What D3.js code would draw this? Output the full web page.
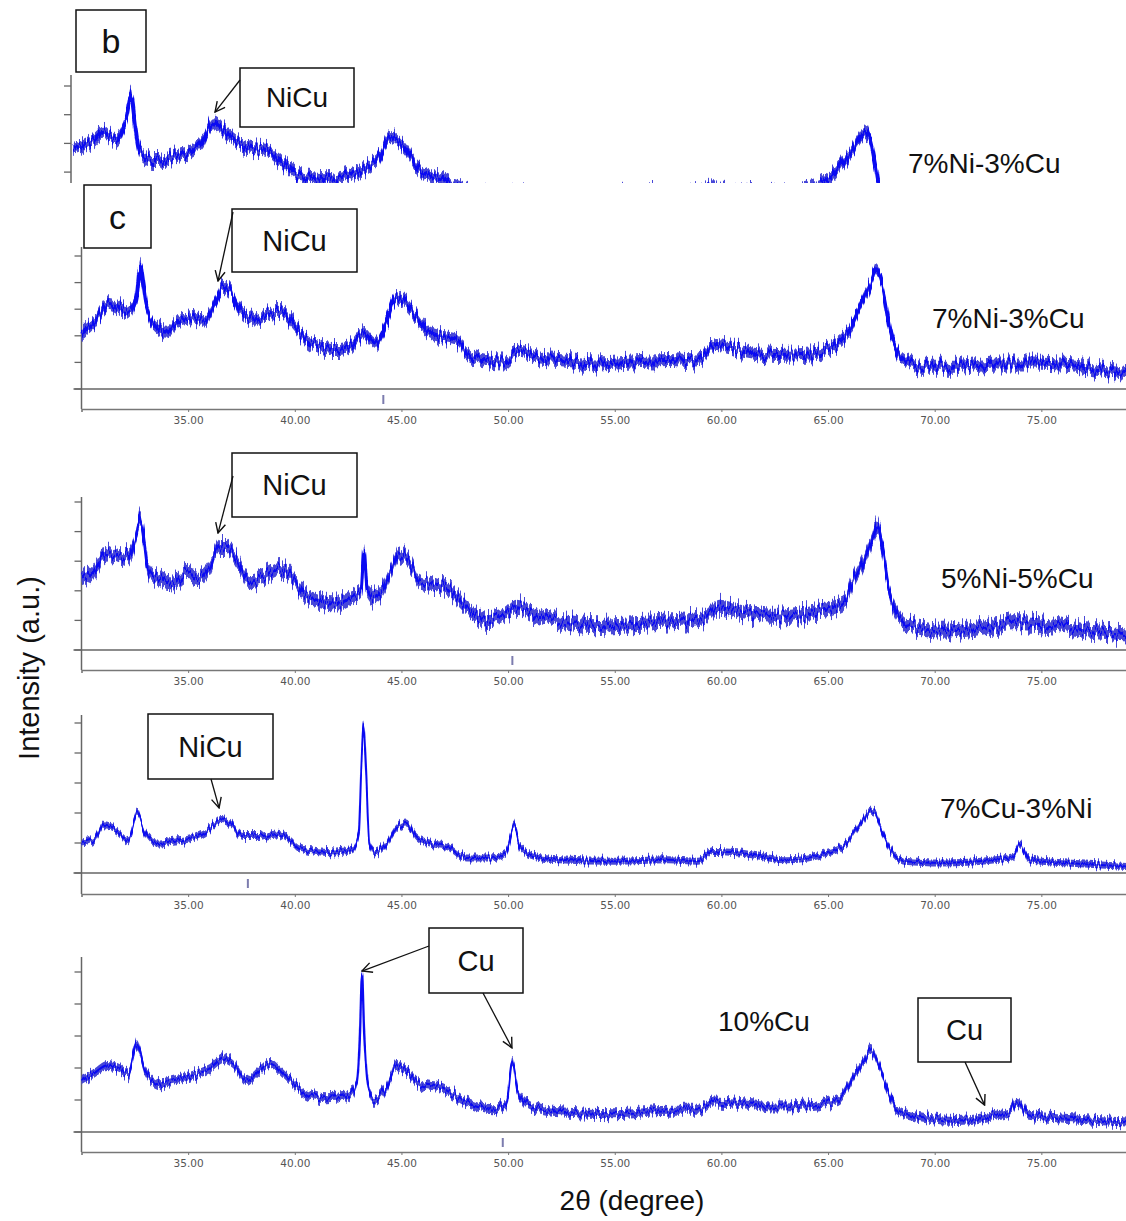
<!DOCTYPE html>
<html>
<head>
<meta charset="utf-8">
<script src="https://cdn.jsdelivr.net/npm/d3@7/dist/d3.min.js"></script>
<style>
  body { margin: 0; background: #fff; }
  svg { display: block; }
</style>
</head>
<body>
<div id="chart"></div>
<script>
'use strict';

// ---- data (2theta in degrees, intensity in axis-tick units) ----
const ttB = [30.1, 31.04, 31.5, 32.1, 32.6, 32.8, 33.0, 33.22, 33.85, 34.78, 35.72, 36.18, 36.65, 37.28, 38.2, 39.15, 39.77, 40.7, 41.95, 43.2, 44.28, 44.9, 45.53, 46.3, 47.4, 48.18, 49.5, 51.0, 53.0, 55.0, 57.0, 59.0, 60.0, 62.0, 64.0, 65.56, 66.4, 67.18, 67.6, 67.76, 68.3, 70.0, 73.0, 76.0, 79.0];
const intB = [2.77, 3.12, 3.41, 3.12, 3.9, 4.6, 3.6, 2.66, 2.42, 2.53, 2.77, 3.12, 3.7, 3.35, 2.88, 2.77, 2.42, 1.83, 1.72, 1.97, 2.42, 3.22, 2.88, 2.07, 1.72, 1.48, 1.2, 1.3, 1.1, 1.15, 1.3, 1.25, 1.4, 1.3, 1.35, 1.83, 2.66, 3.4, 2.18, 1.48, 1.0, 0.9, 0.95, 0.9, 0.8];

const ttC1 = [30.0, 30.55, 31.3, 31.95, 32.3, 32.6, 32.75, 32.9, 33.05, 33.5, 34.0, 34.6, 35.2, 35.7, 36.2, 36.6, 36.95, 37.4, 38.05, 38.7, 39.3, 39.9, 40.55, 41.2, 41.95, 42.6, 43.2, 43.8, 44.3, 44.75, 45.2, 45.7, 46.2, 46.95, 47.6, 48.1, 49.0, 49.8, 50.5, 51.5, 52.4, 54.1, 55.8, 57.5, 58.9, 59.75, 60.9, 62.6, 64.3, 65.4, 66.0, 66.7, 67.0, 67.25, 67.6, 67.9, 68.4, 69.4, 71.1, 72.9, 74.6, 76.3, 78.0, 79.0];
const intC1 = [2.09, 2.46, 3.2, 2.96, 2.9, 3.6, 4.6, 3.9, 3.1, 2.34, 2.15, 2.6, 2.7, 2.6, 3.1, 3.84, 3.7, 2.96, 2.6, 2.84, 2.9, 2.46, 1.84, 1.6, 1.5, 1.6, 2.1, 1.7, 2.46, 3.46, 3.2, 2.7, 2.2, 1.96, 1.84, 1.34, 1.09, 1.03, 1.4, 1.15, 1.09, 0.96, 1.03, 1.09, 1.03, 1.65, 1.46, 1.28, 1.34, 1.7, 2.2, 3.46, 3.9, 4.5, 3.7, 2.34, 1.21, 0.84, 0.84, 0.96, 0.96, 0.9, 0.71, 0.59];

const ttC2 = [30.0, 30.55, 31.2, 31.8, 32.27, 32.55, 32.75, 32.95, 33.1, 33.67, 34.3, 34.9, 35.55, 36.0, 36.5, 36.8, 37.27, 37.9, 38.5, 39.3, 39.9, 40.4, 41.0, 41.95, 42.7, 43.1, 43.25, 43.4, 43.67, 44.1, 44.6, 44.9, 45.4, 45.86, 46.5, 47.3, 47.7, 48.36, 49.1, 49.77, 50.4, 51.2, 52.1, 54.1, 55.8, 57.5, 59.2, 59.9, 60.9, 62.6, 64.3, 65.7, 66.2, 66.6, 67.06, 67.32, 67.57, 67.83, 68.25, 68.94, 70.3, 72.0, 73.7, 75.4, 77.1, 79.0];
const intC2 = [2.36, 2.58, 3.26, 3.03, 3.26, 3.8, 4.4, 3.6, 2.8, 2.36, 2.25, 2.58, 2.47, 2.8, 3.48, 3.48, 3.03, 2.36, 2.47, 2.7, 2.47, 1.9, 1.69, 1.57, 1.8, 2.0, 3.4, 2.0, 1.8, 2.02, 2.8, 3.26, 2.92, 2.36, 2.25, 2.02, 1.69, 1.24, 1.01, 1.12, 1.46, 1.24, 1.01, 0.84, 0.9, 0.96, 1.07, 1.46, 1.29, 1.12, 1.29, 1.57, 2.36, 2.92, 3.7, 4.16, 3.37, 2.13, 1.24, 0.79, 0.62, 0.73, 0.9, 0.84, 0.67, 0.56];

const ttC3 = [30.0, 30.55, 31.1, 31.64, 32.2, 32.6, 32.97, 33.5, 34.3, 35.23, 35.86, 36.56, 36.95, 37.58, 38.36, 39.14, 39.77, 40.23, 41.0, 41.95, 42.73, 43.0, 43.12, 43.22, 43.33, 43.5, 43.75, 44.2, 44.77, 45.23, 45.7, 46.33, 47.1, 48.05, 49.14, 49.9, 50.27, 50.55, 51.2, 52.4, 55.0, 57.5, 58.9, 59.6, 60.9, 63.0, 65.0, 65.9, 66.55, 66.98, 67.23, 67.57, 67.9, 68.6, 70.3, 72.85, 73.7, 74.0, 74.4, 76.25, 79.0];
const intC3 = [1.0, 1.11, 1.61, 1.44, 1.11, 2.0, 1.33, 1.0, 1.06, 1.17, 1.39, 1.78, 1.67, 1.22, 1.22, 1.33, 1.11, 0.83, 0.72, 0.67, 0.78, 1.33, 3.56, 5.0, 3.56, 1.0, 0.67, 0.89, 1.5, 1.67, 1.22, 1.0, 0.89, 0.5, 0.5, 0.67, 1.6, 0.83, 0.56, 0.44, 0.39, 0.44, 0.39, 0.72, 0.67, 0.44, 0.67, 1.0, 1.67, 2.06, 2.0, 1.33, 0.78, 0.39, 0.33, 0.44, 0.56, 1.0, 0.44, 0.33, 0.22];

const ttC4 = [30.0, 30.55, 31.2, 31.8, 32.2, 32.6, 32.97, 33.67, 34.45, 35.23, 36.0, 36.64, 37.1, 37.73, 38.36, 38.83, 39.45, 39.92, 40.7, 41.48, 42.42, 42.9, 43.05, 43.15, 43.25, 43.44, 43.67, 44.3, 44.77, 45.23, 45.86, 46.95, 48.05, 49.3, 49.92, 50.2, 50.47, 51.17, 52.4, 55.0, 57.5, 58.9, 59.6, 60.9, 62.6, 64.3, 65.5, 66.2, 66.7, 67.0, 67.3, 67.74, 68.25, 69.4, 71.1, 72.85, 73.5, 73.87, 74.4, 76.25, 79.0];
const intC4 = [1.61, 1.82, 2.08, 1.98, 1.82, 2.76, 1.93, 1.51, 1.61, 1.77, 1.98, 2.29, 2.14, 1.61, 1.93, 2.14, 1.82, 1.51, 1.15, 1.04, 1.09, 1.51, 2.97, 4.95, 3.2, 1.41, 0.99, 1.41, 2.08, 1.93, 1.51, 1.35, 0.94, 0.73, 0.94, 2.2, 1.2, 0.78, 0.63, 0.57, 0.68, 0.68, 0.94, 0.89, 0.78, 0.83, 0.99, 1.72, 2.24, 2.55, 2.24, 1.41, 0.68, 0.47, 0.36, 0.52, 0.63, 0.99, 0.52, 0.42, 0.31];

const sampleNames = ["7%Ni-3%Cu", "7%Ni-3%Cu", "5%Ni-5%Cu", "7%Cu-3%Ni", "10%Cu"];
const refLines = [null, 44.15, 50.2, 37.8, 49.75];   // small reference marks under each pattern
const tickLabels = [35, 40, 45, 50, 55, 60, 65, 70, 75];
const levelTicks = [0, 1, 2, 3, 4, 5];

const width = 1126, height = 1221;
const blue = "#0a0af2";
const font = "'Liberation Sans', Arial, sans-serif";

const svg = d3.select("#chart").append("svg")
    .attr("width", width)
    .attr("height", height);

const defs = svg.append("defs");
defs.append("marker")
    .attr("id", "arrow")
    .attr("markerUnits", "userSpaceOnUse")
    .attr("viewBox", "0 0 12 12")
    .attr("refX", 11).attr("refY", 6)
    .attr("markerWidth", 12).attr("markerHeight", 12)
    .attr("orient", "auto")
    .append("path")
    .attr("d", "M1,1 L11,6 L1,11")
    .attr("fill", "none")
    .attr("stroke", "#111")
    .attr("stroke-width", 1.4);

// detector-noise look: shift each pixel column up/down (style only, data untouched)
function jagFilter(id, seed, amp) {
    const f = defs.append("filter").attr("id", id)
        .attr("x", "-1%").attr("y", "-30%").attr("width", "102%").attr("height", "160%")
        .attr("color-interpolation-filters", "sRGB");
    f.append("feTurbulence").attr("type", "fractalNoise")
        .attr("baseFrequency", "0.5 0.015").attr("numOctaves", 2).attr("seed", seed).attr("result", "n");
    f.append("feColorMatrix").attr("in", "n").attr("type", "matrix")
        .attr("values", "0 0 0 0 0.5  0 1.6 0 0 -0.3  0 0 1 0 0  0 0 0 0 1").attr("result", "m");
    f.append("feDisplacementMap").attr("in", "SourceGraphic").attr("in2", "m")
        .attr("scale", amp).attr("xChannelSelector", "R").attr("yChannelSelector", "G");
}

// panel layout (pixel positions of each stacked pattern)
const panels = [
    { tt: ttB,  v: intB,  x0: 71,   px: 21.4,  base: 229.5, step: 28.7, top: 75,  axisY: null, band: 6, core: 4, jag: 14, clip: 183,
      label: [908, 173] },
    { tt: ttC1, v: intC1, x0: 81.5, px: 21.33, base: 389,   step: 26.6, top: 247, axisY: 409,  band: 6, core: 4, jag: 14,
      label: [932, 328] },
    { tt: ttC2, v: intC2, x0: 81.5, px: 21.33, base: 650,   step: 29.6, top: 497, axisY: 670,  band: 7, core: 3, jag: 16,
      label: [941, 588] },
    { tt: ttC3, v: intC3, x0: 81.5, px: 21.33, base: 873,   step: 30,   top: 715, axisY: 894,  band: 3.5, core: 2, jag: 8,
      label: [940, 818] },
    { tt: ttC4, v: intC4, x0: 81.5, px: 21.33, base: 1132,  step: 32,   top: 957, axisY: 1152, band: 4.5, core: 2.2, jag: 10,
      label: [718, 1031] }
];

panels.forEach(function(p, i) {
    const x = d3.scaleLinear().domain([30, 79]).range([p.x0, p.x0 + 49 * p.px]);
    const y = d3.scaleLinear().domain([0, 5]).range([p.base, p.base - 5 * p.step]);
    p.x = x; p.y = y;

    const g = svg.append("g");
    if (p.clip) {
        const cid = "clip" + i;
        defs.append("clipPath").attr("id", cid)
            .append("rect").attr("x", 0).attr("y", 0).attr("width", width).attr("height", p.clip);
        g.attr("clip-path", "url(#" + cid + ")");
    }

    const pts = p.tt.map((t, k) => ({ t: t, v: p.v[k] }));

    // left axis + level ticks
    g.append("line")
        .attr("x1", x(30)).attr("x2", x(30))
        .attr("y1", p.top).attr("y2", p.axisY || p.base)
        .attr("stroke", "#666").attr("stroke-width", 1.5);
    g.selectAll(".lvl").data(levelTicks).enter().append("line")
        .attr("x1", x(30) - 7).attr("x2", x(30))
        .attr("y1", d => y(d)).attr("y2", d => y(d))
        .attr("stroke", "#666").attr("stroke-width", 1.3);

    // zero line
    g.append("line")
        .attr("x1", x(30) - 8).attr("x2", width)
        .attr("y1", y(0)).attr("y2", y(0))
        .attr("stroke", "#666").attr("stroke-width", 1.5);

    // pattern: noise band + centre trace
    jagFilter("jag" + i, 3 + i * 7, p.jag);
    const trace = g.append("g").attr("filter", "url(#jag" + i + ")");
    trace.append("path").datum(pts)
        .attr("d", d3.area()
            .x(d => x(d.t))
            .y0(d => y(d.v) + p.band)
            .y1(d => y(d.v) - p.band)
            .curve(d3.curveMonotoneX))
        .attr("fill", "#4848d8");
    trace.append("path").datum(pts)
        .attr("d", d3.line()
            .x(d => x(d.t))
            .y(d => y(d.v))
            .curve(d3.curveMonotoneX))
        .attr("fill", "none").attr("stroke", blue).attr("stroke-width", p.core);

    if (p.axisY) {
        const ax = svg.append("g")
            .attr("transform", "translate(0," + p.axisY + ")")
            .call(d3.axisBottom(x).tickValues(tickLabels).tickFormat(d3.format(".2f")).tickSize(3).tickPadding(5));
        ax.select(".domain").attr("stroke", "#777").attr("stroke-width", 1.6);
        ax.selectAll(".tick line").attr("stroke", "#777");
        ax.selectAll("text").attr("fill", "#555").attr("font-size", 10.5)
            .attr("font-family", "'DejaVu Sans', Tahoma, sans-serif");
        if (refLines[i] !== null) {
            svg.append("line")
                .attr("x1", x(refLines[i])).attr("x2", x(refLines[i]))
                .attr("y1", p.base + 6).attr("y2", p.base + 15)
                .attr("stroke", "#7c7cae").attr("stroke-width", 2);
        }
    }

    svg.append("text")
        .attr("x", p.label[0]).attr("y", p.label[1])
        .attr("font-family", font).attr("font-size", 28).attr("fill", "#111")
        .text(sampleNames[i]);
});

// ---- annotations ----
function box(x, y, w, h, txt, size) {
    svg.append("rect").attr("x", x).attr("y", y).attr("width", w).attr("height", h)
        .attr("fill", "#fff").attr("stroke", "#111").attr("stroke-width", 1.5);
    svg.append("text").attr("x", x + w / 2).attr("y", y + h / 2)
        .attr("text-anchor", "middle").attr("dominant-baseline", "central")
        .attr("font-family", font).attr("font-size", size).attr("fill", "#111")
        .text(txt);
}
function arrow(x1, y1, p, t, v) {
    svg.append("line")
        .attr("x1", x1).attr("y1", y1)
        .attr("x2", p.x(t)).attr("y2", p.y(v))
        .attr("stroke", "#111").attr("stroke-width", 1.3)
        .attr("marker-end", "url(#arrow)");
}

// panel letters
box(76, 10, 70, 62, "b", 34);
box(84, 185, 67, 63, "c", 34);

// NiCu / Cu call-outs, arrow heads placed on the peaks through the panel scales
box(240, 68, 114, 59, "NiCu", 28);
arrow(240, 80, panels[0], 36.73, 4.09);

box(232, 209, 125, 63, "NiCu", 29);
arrow(233, 212, panels[1], 36.4, 4.06);

box(232, 453, 125, 64, "NiCu", 29);
arrow(233, 476, panels[2], 36.4, 3.95);

box(148, 714, 125, 65, "NiCu", 29);
arrow(211, 779, panels[3], 36.45, 2.17);

box(429, 928, 94, 65, "Cu", 29);
arrow(429, 946, panels[4], 43.15, 5.03);
arrow(483, 993, panels[4], 50.18, 2.63);

box(918, 998, 93, 64, "Cu", 29);
arrow(965, 1062, panels[4], 72.34, 0.84);

// axis titles
svg.append("text")
    .attr("x", 632).attr("y", 1210)
    .attr("text-anchor", "middle")
    .attr("font-family", font).attr("font-size", 28).attr("fill", "#111")
    .text("2θ (degree)");
svg.append("text")
    .attr("transform", "translate(39,668) rotate(-90)")
    .attr("text-anchor", "middle")
    .attr("font-family", font).attr("font-size", 29).attr("fill", "#111")
    .text("Intensity (a.u.)");
</script>
</body>
</html>
